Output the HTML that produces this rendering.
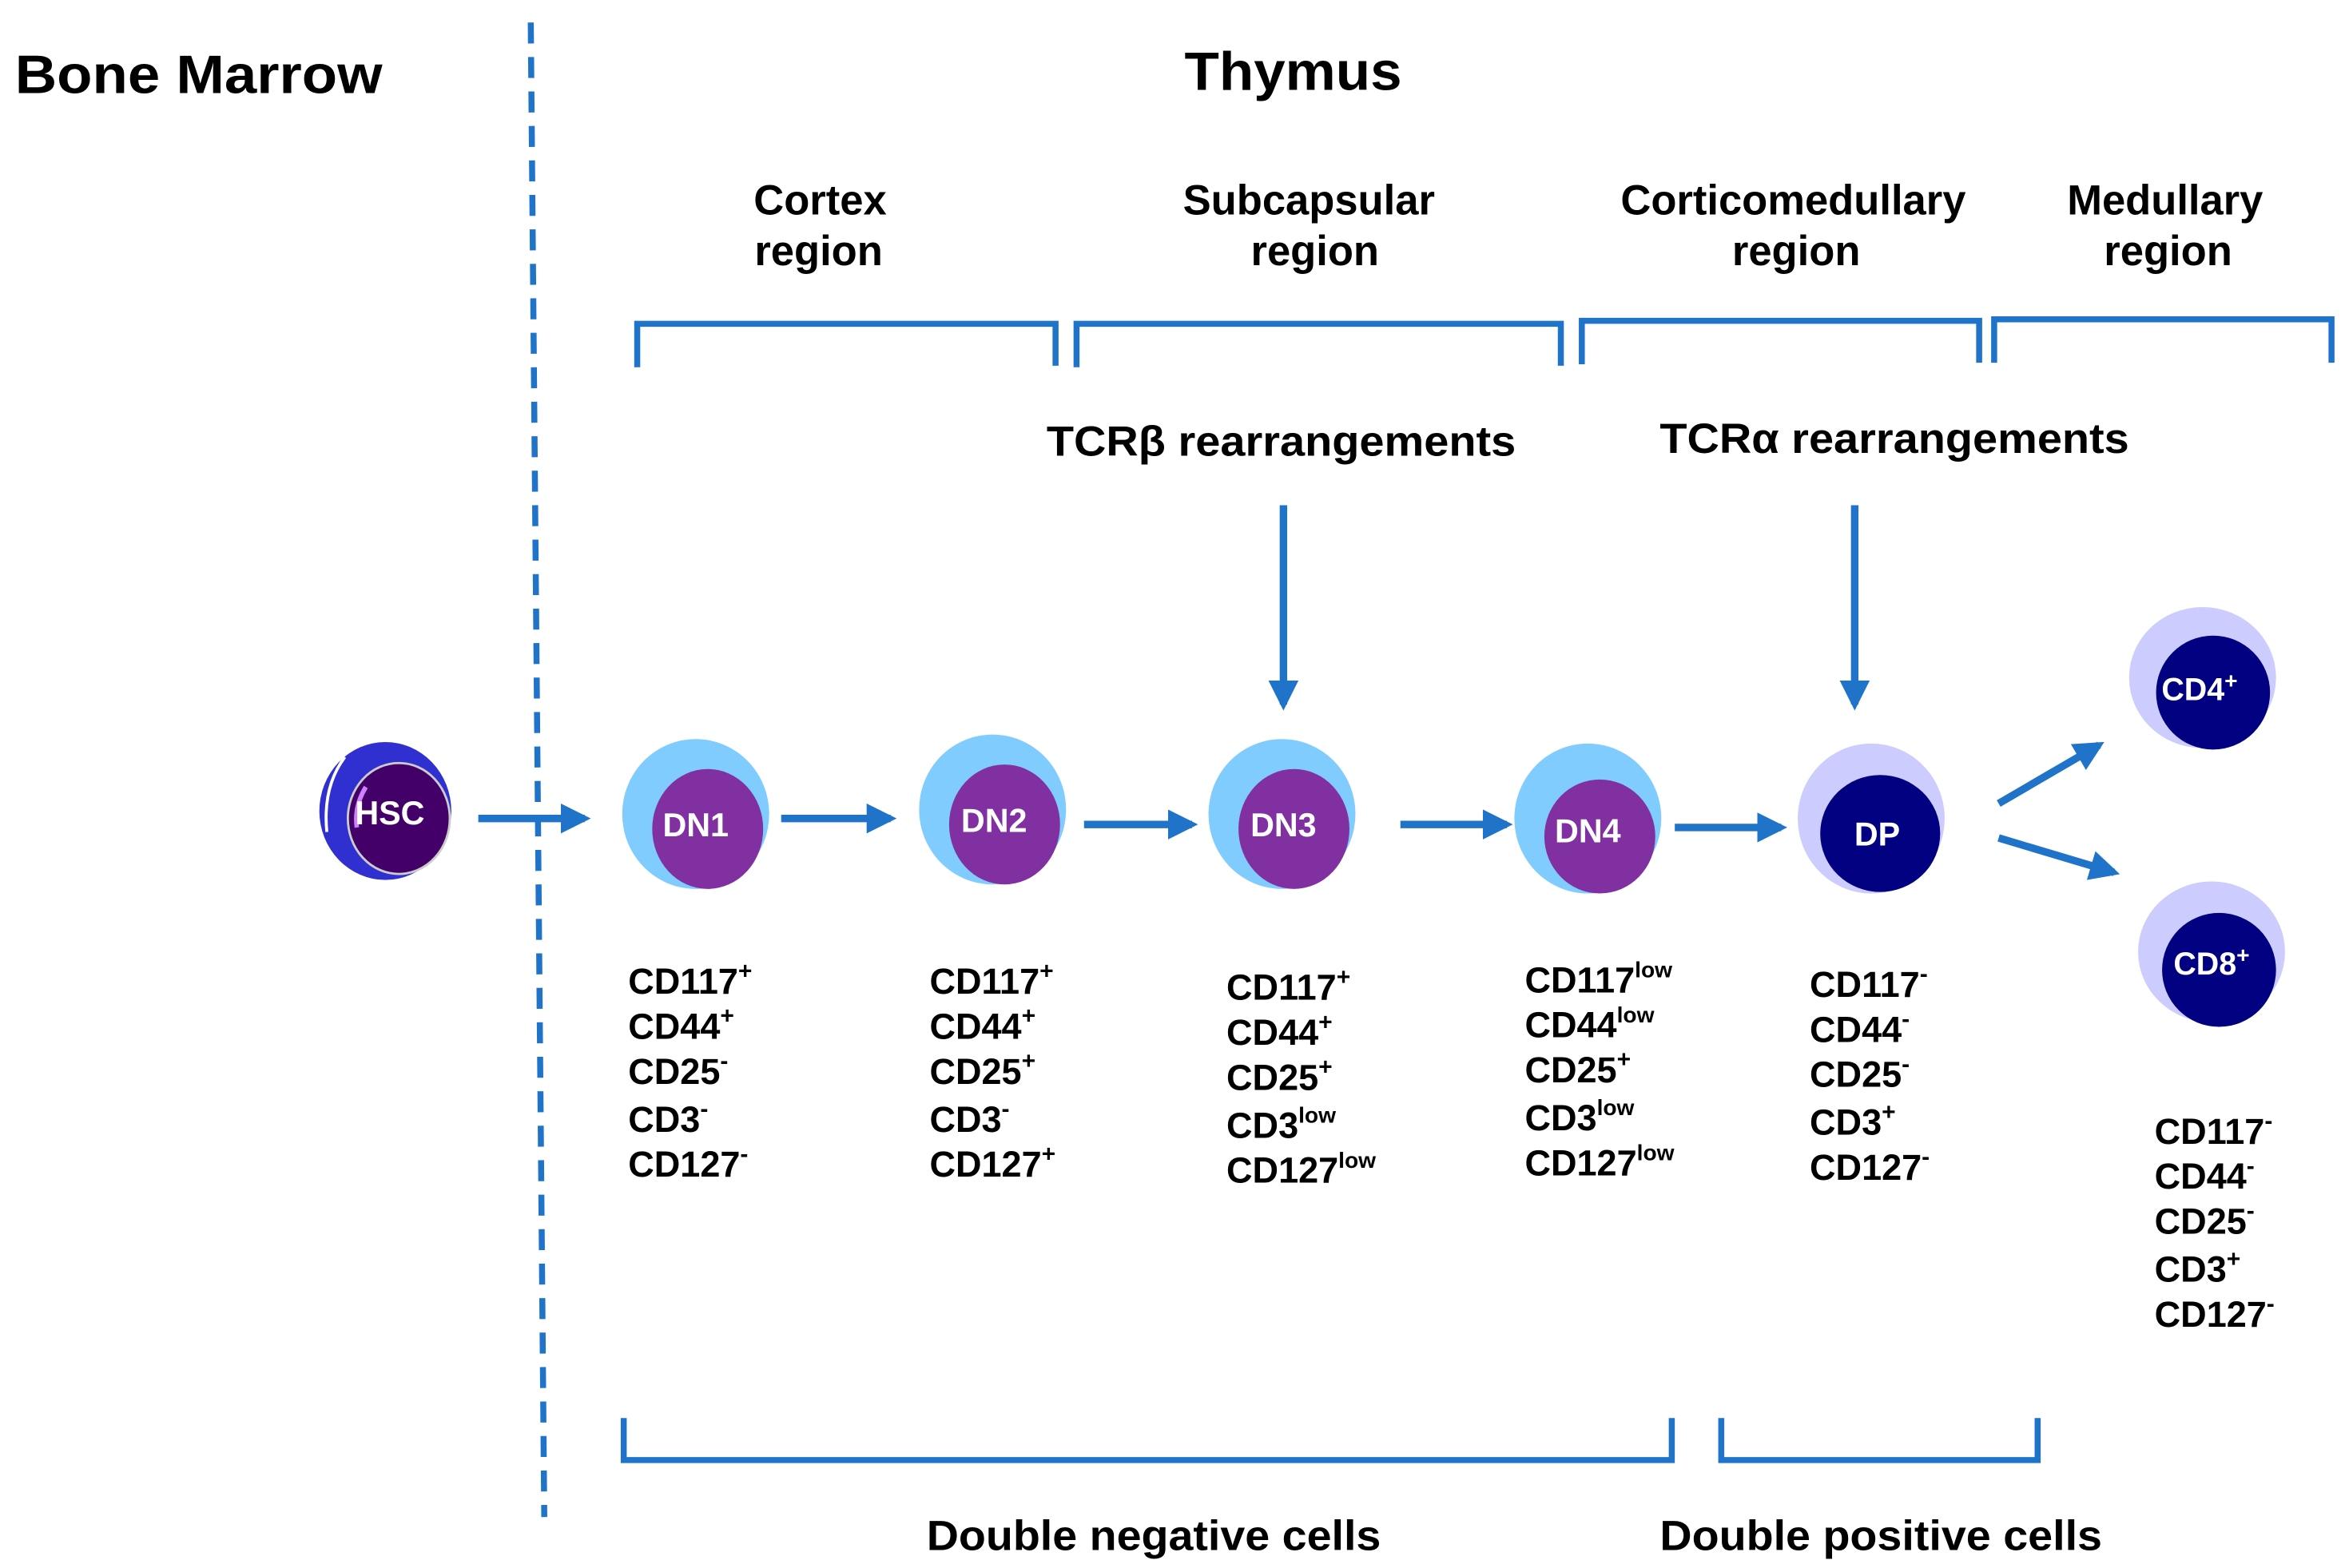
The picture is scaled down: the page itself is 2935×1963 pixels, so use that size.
<!DOCTYPE html>
<html><head><meta charset="utf-8"><style>
html,body{margin:0;padding:0;background:#fff}
svg{display:block}
text{font-family:"Liberation Sans",Arial,sans-serif;font-weight:bold}
</style></head><body>
<svg width="2935" height="1963" viewBox="0 0 1564 1046" xmlns="http://www.w3.org/2000/svg">
<defs>
<marker id="ah2" markerWidth="20" markerHeight="20" refX="16" refY="10" orient="auto" markerUnits="userSpaceOnUse" viewBox="0 0 20 20">
<path d="M0,0 L20,10 L0,20 z" fill="#1f73c9"/></marker>
</defs>
<g fill="#000">
<text x="10" y="62" font-size="36" textLength="245" lengthAdjust="spacingAndGlyphs">Bone Marrow</text>
<text x="790" y="60" font-size="36" textLength="145" lengthAdjust="spacingAndGlyphs">Thymus</text>
<g font-size="28" text-anchor="middle">
<text x="547" y="143">Cortex</text><text x="546" y="177">region</text>
<text x="873" y="143">Subcapsular</text><text x="877" y="177">region</text>
<text x="1196" y="143">Corticomedullary</text><text x="1198" y="177">region</text>
<text x="1444" y="143">Medullary</text><text x="1446" y="177">region</text>
</g>
<text x="698" y="304" font-size="28" textLength="313" lengthAdjust="spacingAndGlyphs">TCRβ rearrangements</text>
<text x="1107" y="302" font-size="28" textLength="313" lengthAdjust="spacingAndGlyphs">TCRα rearrangements</text>
<text x="618" y="1034" font-size="28" textLength="303" lengthAdjust="spacingAndGlyphs">Double negative cells</text>
<text x="1107" y="1034" font-size="28" textLength="295" lengthAdjust="spacingAndGlyphs">Double positive cells</text>
</g>
<line x1="354" y1="15" x2="363" y2="1012" stroke="#1f73c9" stroke-width="4" stroke-dasharray="14 9"/>
<g fill="none" stroke="#1f73c9" stroke-width="4">
<path d="M425,245 V216 H704 V244"/>
<path d="M718,245 V216 H1041 V244"/>
<path d="M1055,243 V214 H1320 V242"/>
<path d="M1330,242 V213 H1555 V242"/>
<path d="M416,946 V974 H1115 V946"/>
<path d="M1148,946 V974 H1359 V946"/>
</g>
<g stroke="#1f73c9" stroke-width="5" fill="none">
<line x1="856" y1="337" x2="856" y2="470" marker-end="url(#ah2)"/>
<line x1="1237" y1="337" x2="1237" y2="470" marker-end="url(#ah2)"/>
<line x1="319" y1="546" x2="390" y2="546" marker-end="url(#ah2)"/>
<line x1="521" y1="546" x2="594" y2="546" marker-end="url(#ah2)"/>
<line x1="723" y1="550" x2="795" y2="550" marker-end="url(#ah2)"/>
<line x1="934" y1="550" x2="1005" y2="550" marker-end="url(#ah2)"/>
<line x1="1117" y1="552" x2="1188" y2="552" marker-end="url(#ah2)"/>
<line x1="1333" y1="536" x2="1400" y2="497" marker-end="url(#ah2)"/>
<line x1="1333" y1="559" x2="1410" y2="582" marker-end="url(#ah2)"/>
</g>
<ellipse cx="257" cy="541" rx="44" ry="46" fill="#3030d0"/>
<path d="M230,505 Q215,525 218,555" stroke="#fff" stroke-width="2" fill="none"/>
<ellipse cx="266" cy="546" rx="34" ry="37" fill="#420068" stroke="#ccc" stroke-width="1.5"/>
<path d="M244,525 Q236,538 238,552" stroke="#d080ff" stroke-width="3" fill="none"/>
<text x="260" y="550" font-size="22" fill="#fff" text-anchor="middle">HSC</text>
<g>
<ellipse cx="464" cy="543" rx="49" ry="50" fill="#80ccff"/><ellipse cx="472" cy="553" rx="37" ry="40" fill="#8030a0"/>
<text x="464" y="558" font-size="22" fill="#fff" text-anchor="middle">DN1</text>
<ellipse cx="662" cy="540" rx="49" ry="50" fill="#80ccff"/><ellipse cx="670" cy="550" rx="37" ry="40" fill="#8030a0"/>
<text x="663" y="555" font-size="22" fill="#fff" text-anchor="middle">DN2</text>
<ellipse cx="855" cy="543" rx="49" ry="50" fill="#80ccff"/><ellipse cx="863" cy="553" rx="37" ry="40" fill="#8030a0"/>
<text x="856" y="558" font-size="22" fill="#fff" text-anchor="middle">DN3</text>
<ellipse cx="1059" cy="546" rx="49" ry="50" fill="#80ccff"/><ellipse cx="1067" cy="558" rx="37" ry="38" fill="#8030a0"/>
<text x="1059" y="562" font-size="22" fill="#fff" text-anchor="middle">DN4</text>
<ellipse cx="1248" cy="546" rx="49" ry="50" fill="#ccccff"/><ellipse cx="1254" cy="556" rx="40" ry="39" fill="#000080"/>
<text x="1252" y="564" font-size="22" fill="#fff" text-anchor="middle">DP</text>
<ellipse cx="1469" cy="452" rx="49" ry="47" fill="#ccccff"/><ellipse cx="1476" cy="462" rx="38" ry="38" fill="#000080"/>
<text x="1467" y="467" font-size="21" fill="#fff" text-anchor="middle">CD4<tspan font-size="15" dy="-8">+</tspan></text>
<ellipse cx="1475" cy="635" rx="49" ry="47" fill="#ccccff"/><ellipse cx="1480" cy="647" rx="38" ry="38" fill="#000080"/>
<text x="1475" y="650" font-size="21" fill="#fff" text-anchor="middle">CD8<tspan font-size="15" dy="-8">+</tspan></text>
</g>
<g font-size="24" fill="#000">
<text x="419" y="663">CD117<tspan font-size="16" dy="-10">+</tspan></text>
<text x="419" y="693">CD44<tspan font-size="16" dy="-10">+</tspan></text>
<text x="419" y="723">CD25<tspan font-size="16" dy="-10">-</tspan></text>
<text x="419" y="755">CD3<tspan font-size="16" dy="-10">-</tspan></text>
<text x="419" y="785">CD127<tspan font-size="16" dy="-10">-</tspan></text>

<text x="620" y="663">CD117<tspan font-size="16" dy="-10">+</tspan></text>
<text x="620" y="693">CD44<tspan font-size="16" dy="-10">+</tspan></text>
<text x="620" y="723">CD25<tspan font-size="16" dy="-10">+</tspan></text>
<text x="620" y="755">CD3<tspan font-size="16" dy="-10">-</tspan></text>
<text x="620" y="785">CD127<tspan font-size="16" dy="-10">+</tspan></text>

<text x="818" y="667">CD117<tspan font-size="16" dy="-10">+</tspan></text>
<text x="818" y="697">CD44<tspan font-size="16" dy="-10">+</tspan></text>
<text x="818" y="727">CD25<tspan font-size="16" dy="-10">+</tspan></text>
<text x="818" y="759">CD3<tspan font-size="15" dy="-10">low</tspan></text>
<text x="818" y="789">CD127<tspan font-size="15" dy="-10">low</tspan></text>

<text x="1017" y="662">CD117<tspan font-size="15" dy="-10">low</tspan></text>
<text x="1017" y="692">CD44<tspan font-size="15" dy="-10">low</tspan></text>
<text x="1017" y="722">CD25<tspan font-size="16" dy="-10">+</tspan></text>
<text x="1017" y="754">CD3<tspan font-size="15" dy="-10">low</tspan></text>
<text x="1017" y="784">CD127<tspan font-size="15" dy="-10">low</tspan></text>

<text x="1207" y="665">CD117<tspan font-size="16" dy="-10">-</tspan></text>
<text x="1207" y="695">CD44<tspan font-size="16" dy="-10">-</tspan></text>
<text x="1207" y="725">CD25<tspan font-size="16" dy="-10">-</tspan></text>
<text x="1207" y="757">CD3<tspan font-size="16" dy="-10">+</tspan></text>
<text x="1207" y="787">CD127<tspan font-size="16" dy="-10">-</tspan></text>

<text x="1437" y="763">CD117<tspan font-size="16" dy="-10">-</tspan></text>
<text x="1437" y="793">CD44<tspan font-size="16" dy="-10">-</tspan></text>
<text x="1437" y="823">CD25<tspan font-size="16" dy="-10">-</tspan></text>
<text x="1437" y="855">CD3<tspan font-size="16" dy="-10">+</tspan></text>
<text x="1437" y="885">CD127<tspan font-size="16" dy="-10">-</tspan></text>
</g>
</svg>
</body></html>
